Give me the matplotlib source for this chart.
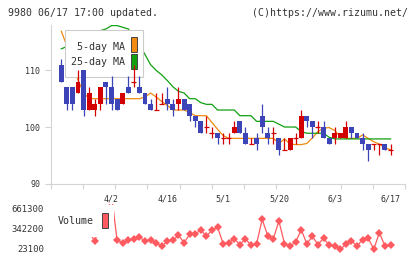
import numpy as np
import matplotlib.pyplot as plt
from matplotlib.patches import Rectangle
import matplotlib.transforms as mtransforms

plt.rcParams['font.family'] = ['DejaVu Sans Mono']

# daily candles (60 trading days)
opens = [111, 107, 107, 106, 110, 103, 103, 104, 108, 107,
         105, 104, 107, 108, 107, 106, 104, 103, 104, 105,
         104, 104, 105, 104, 102, 101, 100, 99, 99, 98,
         98, 99, 101, 99, 97, 98, 102, 99, 99, 98,
         96, 96, 98, 98, 102, 101, 100, 100, 98, 98,
         98, 98, 100, 99, 98, 97, 97, 97, 97, 96]
highs = [112, 107, 107, 110, 110, 107, 105, 107, 108, 109,
         105, 106, 109, 111, 109, 106, 105, 106, 106, 107,
         105, 107, 105, 104, 102, 101, 102, 100, 99, 99,
         99, 101, 101, 100, 98, 99, 104, 100, 100, 98,
         98, 98, 99, 103, 102, 101, 101, 101, 98, 100,
         99, 101, 100, 99, 99, 97, 97, 97, 97, 97]
lows = [108, 103, 103, 106, 102, 103, 102, 103, 104, 103,
        103, 104, 106, 107, 106, 104, 103, 103, 104, 103,
        102, 103, 103, 101, 100, 99, 99, 98, 97, 97,
        97, 99, 99, 97, 97, 96, 99, 97, 97, 95,
        96, 96, 97, 98, 100, 98, 99, 98, 97, 97,
        98, 98, 98, 98, 96, 94, 96, 95, 96, 95]
closes = [108, 104, 104, 108, 103, 106, 104, 107, 107, 104,
          103, 106, 106, 108, 106, 104, 103, 103, 104, 104,
          103, 105, 103, 102, 101, 99, 100, 99, 98, 98,
          98, 100, 99, 97, 97, 97, 100, 98, 99, 96,
          96, 98, 98, 102, 101, 100, 100, 98, 97, 99,
          99, 100, 99, 98, 97, 96, 97, 97, 96, 96]

ma5 = [116.9, 114.3, 110.8, 108.3, 106, 105, 105, 105, 105, 105,
       105, 105, 105, 105, 105, 105.3, 106, 105.3, 104.5, 103.8,
       103, 103, 103, 102.6, 102, 102, 102, 100.8, 99.6, 98.5,
       98, 98, 98, 98, 98, 98, 98, 98, 98, 97.1,
       97.9, 97, 96.9, 96.9, 97.1, 98.1, 99.2, 99.8, 99.9, 99.4,
       98.3, 98, 98, 98, 98.6, 98, 97.4, 97, 96.3, 96]
ma25 = [113.8, 114.2, 114.8, 115.5, 116, 116.5, 116.8, 117, 117.3, 117.9,
        117.9, 117.6, 117.3, 116, 114.5, 112.8, 111, 110, 109.2, 108.2,
        107.1, 106.3, 106, 105, 105, 104.3, 104, 104, 103, 103,
        103, 103, 102, 102, 102, 101, 101, 101, 101, 100.5,
        100, 100, 100, 99.2, 98.9, 98.9, 98.9, 98.9, 98.2, 97.9,
        97.9, 97.9, 97.9, 97.9, 97.9, 97.9, 97.9, 97.9, 97.9, 97.9]

volume = [300000, 320000, 280000, 300000, 290000, 278000, 139600, 400000, 450000, 880000,
          150700, 112400, 150700, 176300, 203400, 134800, 160300, 112400, 55000, 134800,
          150700, 230500, 112400, 246500, 246500, 319900, 214600, 310300, 362900, 96500,
          112400, 176300, 80500, 176300, 71000, 96500, 485800, 222000, 176300, 458700,
          96500, 59800, 123600, 319900, 96500, 214600, 80500, 187400, 71000, 59800,
          7100, 87000, 139600, 59800, 160300, 187400, 7100, 272000, 59800, 71000]

date_labels = ['4/2', '4/16', '5/1', '5/20', '6/3', '6/17']
date_index = [9, 19, 29, 39, 49, 59]
vol_ticks = [23100, 342200, 661300]

RED = '#d40000'
BLUE = '#3c44b8'
GRAY = '#d4d4d4'
TXT = '#333333'

W, H = 420, 259
fig = plt.figure(figsize=(W / 100, H / 100), dpi=100)

def fx(px):
    return px / W

def fy(py):
    return (H - py) / H

xlim = (-1.9, 61.65)
ax = fig.add_axes([fx(50.7), fy(183.7), fx(405.3 - 50.7), (183.7 - 25) / H])
axv = fig.add_axes([fx(50.7), fy(252), fx(405.3 - 50.7), 48 / H])

x = np.arange(len(opens))

# moving averages (behind the legend box)
ax.plot(x, ma5, color='#f08a10', lw=0.9, zorder=2)
ax.plot(x, ma25, color='#10a010', lw=0.9, zorder=2)

# candles
for i in x:
    o, h, l, c = opens[i], highs[i], lows[i], closes[i]
    if c == o:
        col = RED
        ax.vlines(i, l, h, color=col, lw=0.9, zorder=5)
        ax.hlines(c, i - 0.45, i + 0.45, color=col, lw=0.9, zorder=5)
        continue
    col = RED if c > o else BLUE
    ax.vlines(i, l, h, color=col, lw=0.9, zorder=5)
    ax.bar(i, abs(c - o), bottom=min(o, c), width=0.88, color=col,
           linewidth=0, zorder=5)

ax.set_xlim(*xlim)
ax.set_ylim(90, 118)
for s in ['top', 'right']:
    ax.spines[s].set_visible(False)
for s in ['left', 'bottom']:
    ax.spines[s].set_color(GRAY)
    ax.spines[s].set_linewidth(0.8)
ax.set_yticks([90, 100, 110])
ax.set_yticklabels(['90', '100', '110'])
ax.set_xticks(np.linspace(xlim[0], xlim[1], 12))
ax.set_xticklabels([])
ax.tick_params(axis='y', length=4.1, width=0.8, color=GRAY, pad=3.6,
               labelsize=6, labelcolor=TXT)
ax.tick_params(axis='x', length=3.4, width=0.8, color=GRAY)

# date labels between panels
trans = mtransforms.blended_transform_factory(ax.transData, ax.transAxes)
for lab, idx in zip(date_labels, date_index):
    ax.text(idx, (183.7 - 198.5) / 158.7, lab, transform=trans, ha='center',
            va='center', fontsize=6, color=TXT, clip_on=False)

# price legend box
ax.add_patch(Rectangle((fx(65), fy(77.3)), fx(78.3), 47.3 / H,
                       transform=fig.transFigure, facecolor='white',
                       edgecolor='#cccccc', lw=0.8, zorder=3))
ax.text(fx(125), fy(46.7), '5-day MA', transform=fig.transFigure, ha='right',
        va='center', fontsize=7.2, color=TXT, zorder=4)
ax.text(fx(125), fy(62.3), '25-day MA', transform=fig.transFigure, ha='right',
        va='center', fontsize=7.2, color=TXT, zorder=4)
ax.add_patch(Rectangle((fx(131), fy(52.3)), fx(6.3), 15 / H,
                       transform=fig.transFigure, facecolor='#f08a10',
                       edgecolor='#444444', lw=0.7, zorder=4))
ax.add_patch(Rectangle((fx(131), fy(69)), fx(6.3), 14.7 / H,
                       transform=fig.transFigure, facecolor='#10a010',
                       edgecolor='#444444', lw=0.7, zorder=4))

# volume
axv.plot(x, volume, color='#ff5a5f', lw=0.9, marker='D', markersize=4.3,
         markeredgewidth=0, zorder=2)
axv.set_xlim(*xlim)
vpp = (661300 - 23100) / 40.0
axv.set_ylim(23100 - (252 - 248.3) * vpp, 661300 + (208.3 - 204) * vpp)
for s in axv.spines.values():
    s.set_visible(False)
axv.set_xticks([])
axv.set_yticks(vol_ticks)
axv.set_yticklabels([str(v) for v in vol_ticks])
axv.tick_params(axis='y', length=0, pad=4.8, labelsize=6.4, labelcolor=TXT)

axv.add_patch(Rectangle((fx(55), fy(236.5)), fx(59.3), 31.5 / H,
                        transform=fig.transFigure, facecolor='white',
                        edgecolor='none', zorder=3))
axv.text(fx(58), fy(221.5), 'Volume', transform=fig.transFigure, ha='left',
         va='center', fontsize=7.2, color=TXT, zorder=4)
axv.add_patch(Rectangle((fx(101.7), fy(228.3)), fx(6), 15 / H,
                        transform=fig.transFigure, facecolor='#ff5a5f',
                        edgecolor='#444444', lw=0.7, zorder=4))

fig.text(fx(8.3), fy(12.7), '9980 06/17 17:00 updated.', ha='left', va='center',
         fontsize=7.1, color=TXT)
fig.text(fx(408.3), fy(12.7), '(C)https://www.rizumu.net/', ha='right',
         va='center', fontsize=7.1, color=TXT)

fig.savefig('out.png', dpi=100)
